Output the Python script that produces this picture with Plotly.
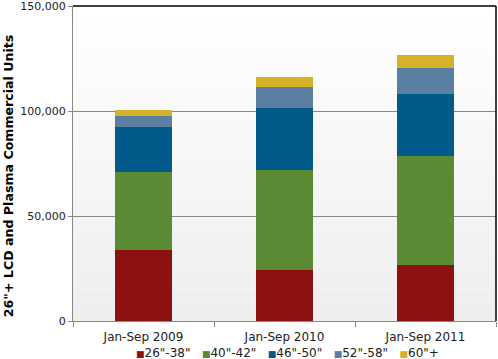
import plotly.graph_objects as go

categories = ["Jan-Sep 2009", "Jan-Sep 2010", "Jan-Sep 2011"]
series_names = ['26"-38"', '40"-42"', '46"-50"', '52"-58"', '60"+']
s_26_38 = [33800, 24300, 26800]
s_40_42 = [37300, 47600, 51900]
s_46_50 = [21100, 29700, 29500]
s_52_58 = [5400, 9800, 12300]
s_60 = [2900, 4800, 6300]
series_values = [s_26_38, s_40_42, s_46_50, s_52_58, s_60]
colors = ["#8c1212", "#5a8a33", "#005a8a", "#5b7fa1", "#d6b22b"]
y_ticks = [0, 50000, 100000, 150000]
y_title = '26"+ LCD and Plasma Commercial Units'

FONT = "DejaVu Sans, Verdana, sans-serif"

fig = go.Figure()
for name, vals, col in zip(series_names, series_values, colors):
    fig.add_trace(go.Bar(x=categories, y=vals, name=name,
                         marker=dict(color=col, line=dict(width=0)),
                         showlegend=False))

# vertical gradient background (white at top to light gray at bottom)
shapes = []
n = 40
for i in range(n):
    t = i / (n - 1)
    g = int(round(255 - (255 - 238) * (1 - t)))
    shapes.append(dict(type="rect", xref="x domain", yref="y domain",
                       x0=0, x1=1, y0=i / n, y1=(i + 1) / n,
                       fillcolor=f"rgb({g},{g},{g})", line=dict(width=0),
                       layer="below"))
# black frame on top and right
shapes.append(dict(type="line", xref="x domain", yref="y domain",
                   x0=0, x1=1, y0=1, y1=1, line=dict(color="black", width=1.5),
                   layer="above"))
shapes.append(dict(type="line", xref="x domain", yref="y domain",
                   x0=1, x1=1, y0=0, y1=1, line=dict(color="black", width=1.5),
                   layer="above"))

legend_parts = []
for name, col in zip(series_names, colors):
    legend_parts.append(f'<span style="color:{col};font-size:9px">■</span>{name}')
legend_text = "\u00a0\u00a0\u00a0".join(legend_parts)

fig.update_layout(
    width=498, height=359,
    margin=dict(l=73, r=2, t=6, b=38),
    paper_bgcolor="white",
    plot_bgcolor="rgba(0,0,0,0)",
    barmode="stack",
    bargap=0.6,
    font=dict(family=FONT, size=12, color="#222"),
    shapes=shapes,
    xaxis=dict(showgrid=False, showline=True, linecolor="#888", linewidth=1,
               ticks="outside", tickson="boundaries", ticklen=5,
               tickcolor="#888", ticklabelstandoff=5,
               tickfont=dict(size=12, color="#222")),
    yaxis=dict(range=[0, 150000], tickvals=y_ticks, tickformat=",",
               showgrid=True, gridcolor="#888", gridwidth=1,
               showline=True, linecolor="#888", linewidth=1,
               ticks="outside", ticklen=4, tickcolor="#888",
               automargin=False, ticklabeloverflow="allow",
               zeroline=False, tickfont=dict(size=11, color="#222")),
    annotations=[
        dict(text=f"<b>{y_title}</b>", xref="paper", yref="paper",
             x=-65 / 424, y=(321 - 176) / 315, xanchor="center", yanchor="middle",
             textangle=-90, showarrow=False,
             font=dict(size=12.6, color="black", family=FONT)),
        dict(text=legend_text, xref="paper", yref="paper",
             x=(288 - 73) / 424, y=-(353 - 321) / 315, xanchor="center",
             yanchor="middle", showarrow=False,
             font=dict(size=12, color="#222", family=FONT)),
    ],
)

fig.write_html("out.html",
               config={"displayModeBar": False},
               post_script="document.body.style.margin='0';document.body.style.padding='0';")
